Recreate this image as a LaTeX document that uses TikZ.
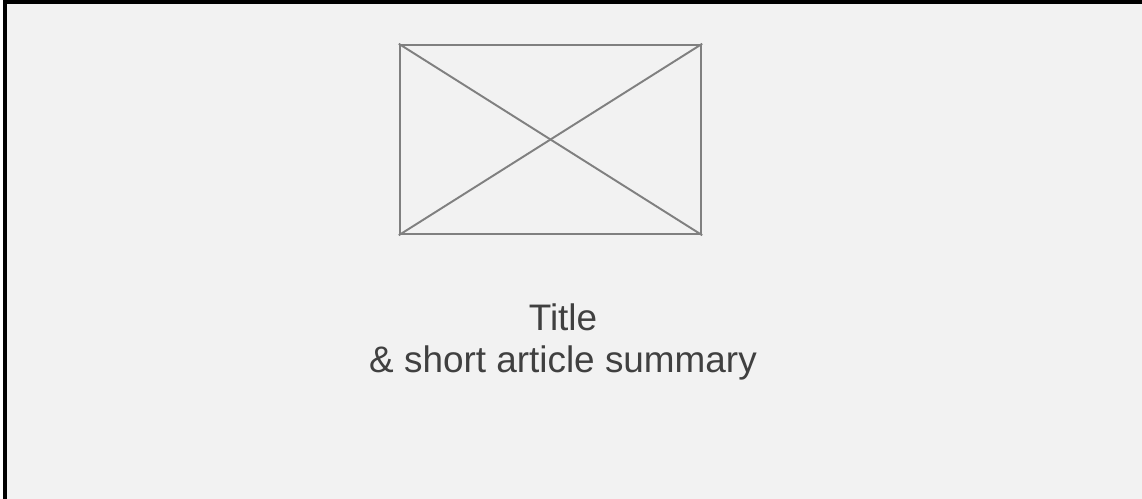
\documentclass[tikz,border=0pt]{standalone}
\usepackage{fontspec}
\setmainfont{Liberation Sans}
\usetikzlibrary{positioning}
\definecolor{panelbg}{HTML}{F2F2F2}
\definecolor{framegray}{HTML}{808080}
\definecolor{textgray}{HTML}{404040}
\tikzset{
  panel/.style   ={fill=panelbg,draw=none},
  edge/.style    ={draw=black,line width=0.95pt},
  imgbox/.style  ={rectangle,draw=framegray,line width=0.7pt,minimum width=3.01cm,
                   minimum height=1.89cm,inner sep=0pt},
  cross/.style   ={draw=framegray,line width=0.55pt},
  caption/.style ={align=center,text=textgray,inner sep=0pt,
                   font=\fontsize{10.5}{11.8}\selectfont}
}
\begin{document}
\begin{tikzpicture}
  \useasboundingbox (0,0) rectangle (11.42,4.99);
  \fill [panel] (0.05,0) rectangle (11.42,4.97);
  \draw [edge] (0.05,0) -- (0.05,4.97) -- (11.42,4.97);

  \node (img)     [imgbox] at (5.505,3.595) {};
  \node (caption) [caption] at (5.63,1.57) {Title\\\& short article summary};

  \draw [cross] (img.north west) -- (img.south east);
  \draw [cross] (img.south west) -- (img.north east);
\end{tikzpicture}
\end{document}
